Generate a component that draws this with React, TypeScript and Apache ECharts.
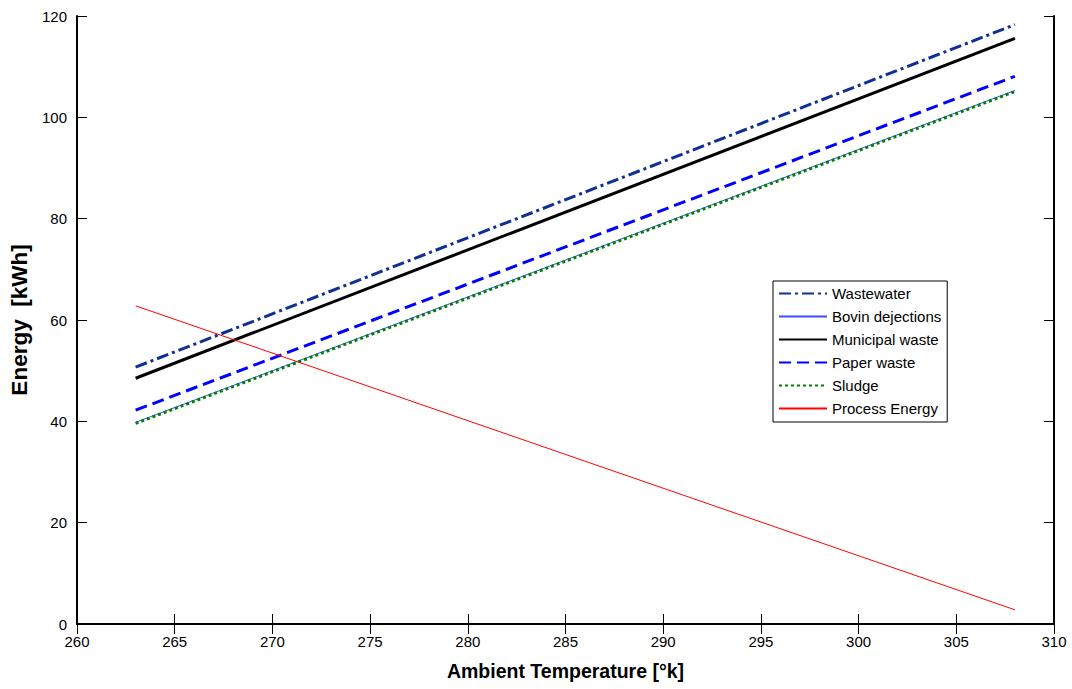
import React, { useEffect, useRef } from "react";
import * as echarts from "echarts";

const temperatures = [263, 308];
const wastewater = [50.7, 118.3];
const bovin = [39.8, 105.3];
const municipal = [48.5, 115.6];
const paper = [42.2, 108.1];
const sludge = [39.6, 105.1];
const processEnergy = [62.8, 2.8];

const xTicks = { min: 260, max: 310, interval: 5 };
const yTicks = { min: 0, max: 120, interval: 20 };

const FONT = "Liberation Sans, Arial, sans-serif";

function pairs(vals: number[]) {
  return temperatures.map((t, i) => [t, vals[i]]);
}

export default function App() {
  const ref = useRef<HTMLDivElement>(null);
  useEffect(() => {
    if (!ref.current) return;
    const chart = echarts.init(ref.current, undefined, { renderer: "svg" });
    const axisLine = { show: true, lineStyle: { color: "#000", width: 2 } };
    const tick = { show: true, inside: true, length: 10, lineStyle: { color: "#000", width: 1 } };
    const mk = (name: string, vals: number[], color: string, width: number, type: any) => ({
      name,
      type: "line",
      data: pairs(vals),
      symbol: "none",
      xAxisIndex: 0,
      yAxisIndex: 0,
      lineStyle: { color, width, type },
      itemStyle: { color },
      emphasis: { disabled: true },
    });
    chart.setOption({
      animation: false,
      backgroundColor: "#fff",
      textStyle: { fontFamily: FONT },
      grid: { left: 77, top: 16, right: 18, bottom: 65, containLabel: false },
      legend: {
        orient: "vertical",
        left: 773,
        top: 281,
        padding: [5, 6, 6, 5],
        itemWidth: 48,
        itemHeight: 14,
        itemGap: 8,
        borderColor: "#000",
        borderWidth: 1,
        backgroundColor: "#fff",
        itemStyle: { opacity: 0 },
        textStyle: { fontFamily: FONT, fontSize: 15, color: "#000", padding: [0, 0, 0, 0] },
        data: ["Wastewater", "Bovin dejections", "Municipal waste", "Paper waste", "Sludge", "Process Energy"],
      },
      xAxis: [
        {
          type: "value",
          position: "bottom",
          min: xTicks.min,
          max: xTicks.max,
          interval: xTicks.interval,
          name: "Ambient Temperature [°k]",
          nameLocation: "middle",
          nameGap: 37,
          nameTextStyle: { fontFamily: FONT, fontSize: 19.5, fontWeight: "bold", color: "#000" },
          axisLine,
          axisTick: tick,
          axisLabel: { fontFamily: FONT, fontSize: 15, color: "#000", margin: 10 },
          splitLine: { show: false },
        },
        {
          type: "value",
          position: "top",
          min: xTicks.min,
          max: xTicks.max,
          interval: xTicks.interval,
          axisLine,
          axisTick: tick,
          axisLabel: { show: false },
          splitLine: { show: false },
        },
      ],
      yAxis: [
        {
          type: "value",
          position: "left",
          min: yTicks.min,
          max: yTicks.max,
          interval: yTicks.interval,
          name: "Energy  [kWh]",
          nameLocation: "middle",
          nameGap: 44,
          nameTextStyle: { fontFamily: FONT, fontSize: 22.5, fontWeight: "bold", color: "#000" },
          axisLine,
          axisTick: tick,
          axisLabel: { fontFamily: FONT, fontSize: 15, color: "#000", margin: 10 },
          splitLine: { show: false },
        },
        {
          type: "value",
          position: "right",
          min: yTicks.min,
          max: yTicks.max,
          interval: yTicks.interval,
          axisLine,
          axisTick: tick,
          axisLabel: { show: false },
          splitLine: { show: false },
        },
      ],
      series: [
        mk("Wastewater", wastewater, "#0f2f96", 3, [12, 4, 3, 4]),
        mk("Bovin dejections", bovin, "#3a4cff", 1, "solid"),
        mk("Municipal waste", municipal, "#000000", 3, "solid"),
        mk("Paper waste", paper, "#0000ff", 3, [12, 6]),
        mk("Sludge", sludge, "#008000", 3, [3, 3]),
        mk("Process Energy", processEnergy, "#ff0000", 1, "solid"),
      ],
    });
    return () => chart.dispose();
  }, []);
  return (
    <div
      ref={ref}
      style={{ position: "fixed", left: 0, top: 0, width: 1072, height: 689, background: "#fff" }}
    />
  );
}
